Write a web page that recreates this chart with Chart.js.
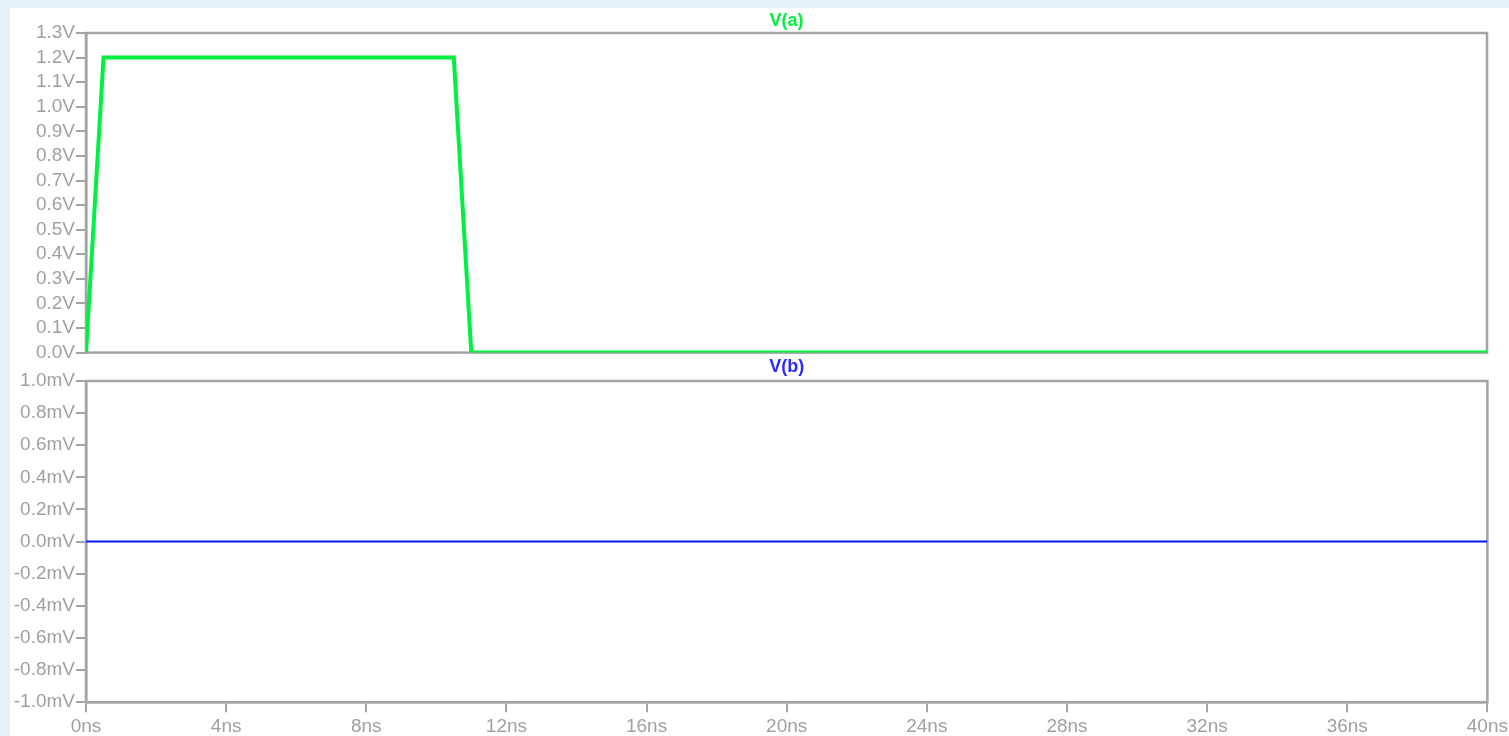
<!DOCTYPE html>
<html>
<head>
<meta charset="utf-8">
<script src="https://cdn.jsdelivr.net/npm/chart.js@4"></script>
<style>
  html, body { margin: 0; padding: 0; background: #e4f1f7; }
  #page { position: relative; width: 1509px; height: 736px; overflow: hidden; background: #e4f1f7; }
  #white { position: absolute; left: 10px; top: 8px; width: 1499px; height: 728px; background: #ffffff; }
  canvas { position: absolute; left: 0; }
  #c1 { top: 0; }
  #c2 { top: 355px; }
</style>
</head>
<body>
<div id="page">
  <div id="white"></div>
  <canvas id="c1" width="1509" height="365"></canvas>
  <canvas id="c2" width="1511" height="386"></canvas>
</div>
<script>
// ---- data (time in ns) ----
const timeA = [0, 0.5, 10.5, 11, 40];
const valuesA = [0, 1.2, 1.2, 0, 0];          // V
const timeB = [0, 40];
const valuesB = [0, 0];                        // mV
const xTicks = [0, 4, 8, 12, 16, 20, 24, 28, 32, 36, 40];
const yTicksA = [0, 0.1, 0.2, 0.3, 0.4, 0.5, 0.6, 0.7, 0.8, 0.9, 1.0, 1.1, 1.2, 1.3];
const yTicksB = [-1.0, -0.8, -0.6, -0.4, -0.2, 0.0, 0.2, 0.4, 0.6, 0.8, 1.0];
const titleA = 'V(a)';
const titleB = 'V(b)';

const GREY = '#a4a4a4';
const LABEL = '#a0a0a0';
const FONT = { family: 'Liberation Sans, Arial, sans-serif', size: 19 };

const boxPlugin = {
  id: 'box',
  beforeDatasetsDraw(chart) {
    const a = chart.chartArea, ctx = chart.ctx;
    ctx.save();
    ctx.strokeStyle = GREY;
    ctx.lineWidth = 2.5;
    ctx.strokeRect(a.left, a.top, a.right - a.left, a.bottom - a.top);
    ctx.restore();
  }
};

function pts(xs, ys) { return xs.map((x, i) => ({ x: x, y: ys[i] })); }

function fixedTicks(list) {
  return function (scale) { scale.ticks = list.map(v => ({ value: v })); };
}

// ---- top chart: V(a) ----
new Chart(document.getElementById('c1'), {
  type: 'line',
  data: { datasets: [{
    data: pts(timeA, valuesA),
    borderColor: '#00f040', borderWidth: 4, pointRadius: 0, tension: 0, fill: false
  }]},
  options: {
    responsive: false, animation: false,
    layout: { padding: { left: 0, right: 22, top: 0, bottom: 12 } },
    plugins: {
      legend: { display: false }, tooltip: { enabled: false },
      title: { display: true, text: titleA, color: '#00f040', fullSize: false,
        font: { family: FONT.family, size: 18, weight: 'bold' },
        padding: { top: 10, bottom: 1.4 } }
    },
    scales: {
      x: { type: 'linear', min: 0, max: 40, display: false },
      y: {
        type: 'linear', min: 0, max: 1.3,
        afterBuildTicks: fixedTicks(yTicksA),
        afterFit(s) { s.width = 86; },
        grid: { drawOnChartArea: false, drawTicks: true, tickLength: 10, color: GREY, lineWidth: 2 },
        border: { display: true, color: GREY, width: 2.5 },
        ticks: { color: LABEL, font: FONT, padding: 1, autoSkip: false,
          callback: v => v.toFixed(1) + 'V' }
      }
    }
  },
  plugins: [boxPlugin]
});

// ---- bottom chart: V(b) ----
new Chart(document.getElementById('c2'), {
  type: 'line',
  data: { datasets: [{
    data: pts(timeB, valuesB),
    borderColor: '#0a14ff', borderWidth: 2, pointRadius: 0, tension: 0, fill: false
  }]},
  options: {
    responsive: false, animation: false,
    layout: { padding: { left: 0, right: 22, top: 0, bottom: 0 } },
    plugins: {
      legend: { display: false }, tooltip: { enabled: false },
      title: { display: true, text: titleB, color: '#2a2aff', fullSize: false,
        font: { family: FONT.family, size: 18, weight: 'bold' },
        padding: { top: 1, bottom: 3.4 } }
    },
    scales: {
      x: {
        type: 'linear', min: 0, max: 40,
        afterBuildTicks: fixedTicks(xTicks),
        grid: { drawOnChartArea: false, drawTicks: true, tickLength: 10, color: GREY, lineWidth: 2 },
        border: { display: true, color: GREY, width: 2.5 },
        ticks: { color: LABEL, font: FONT, padding: 3, maxRotation: 0, autoSkip: false,
          callback: v => v + 'ns' }
      },
      y: {
        type: 'linear', min: -1, max: 1,
        afterBuildTicks: fixedTicks(yTicksB),
        afterFit(s) { s.width = 86; },
        grid: { drawOnChartArea: false, drawTicks: true, tickLength: 10, color: GREY, lineWidth: 2 },
        border: { display: true, color: GREY, width: 2.5 },
        ticks: { color: LABEL, font: FONT, padding: 1, autoSkip: false,
          callback: v => v.toFixed(1) + 'mV' }
      }
    }
  },
  plugins: [boxPlugin]
});
</script>
</body>
</html>
